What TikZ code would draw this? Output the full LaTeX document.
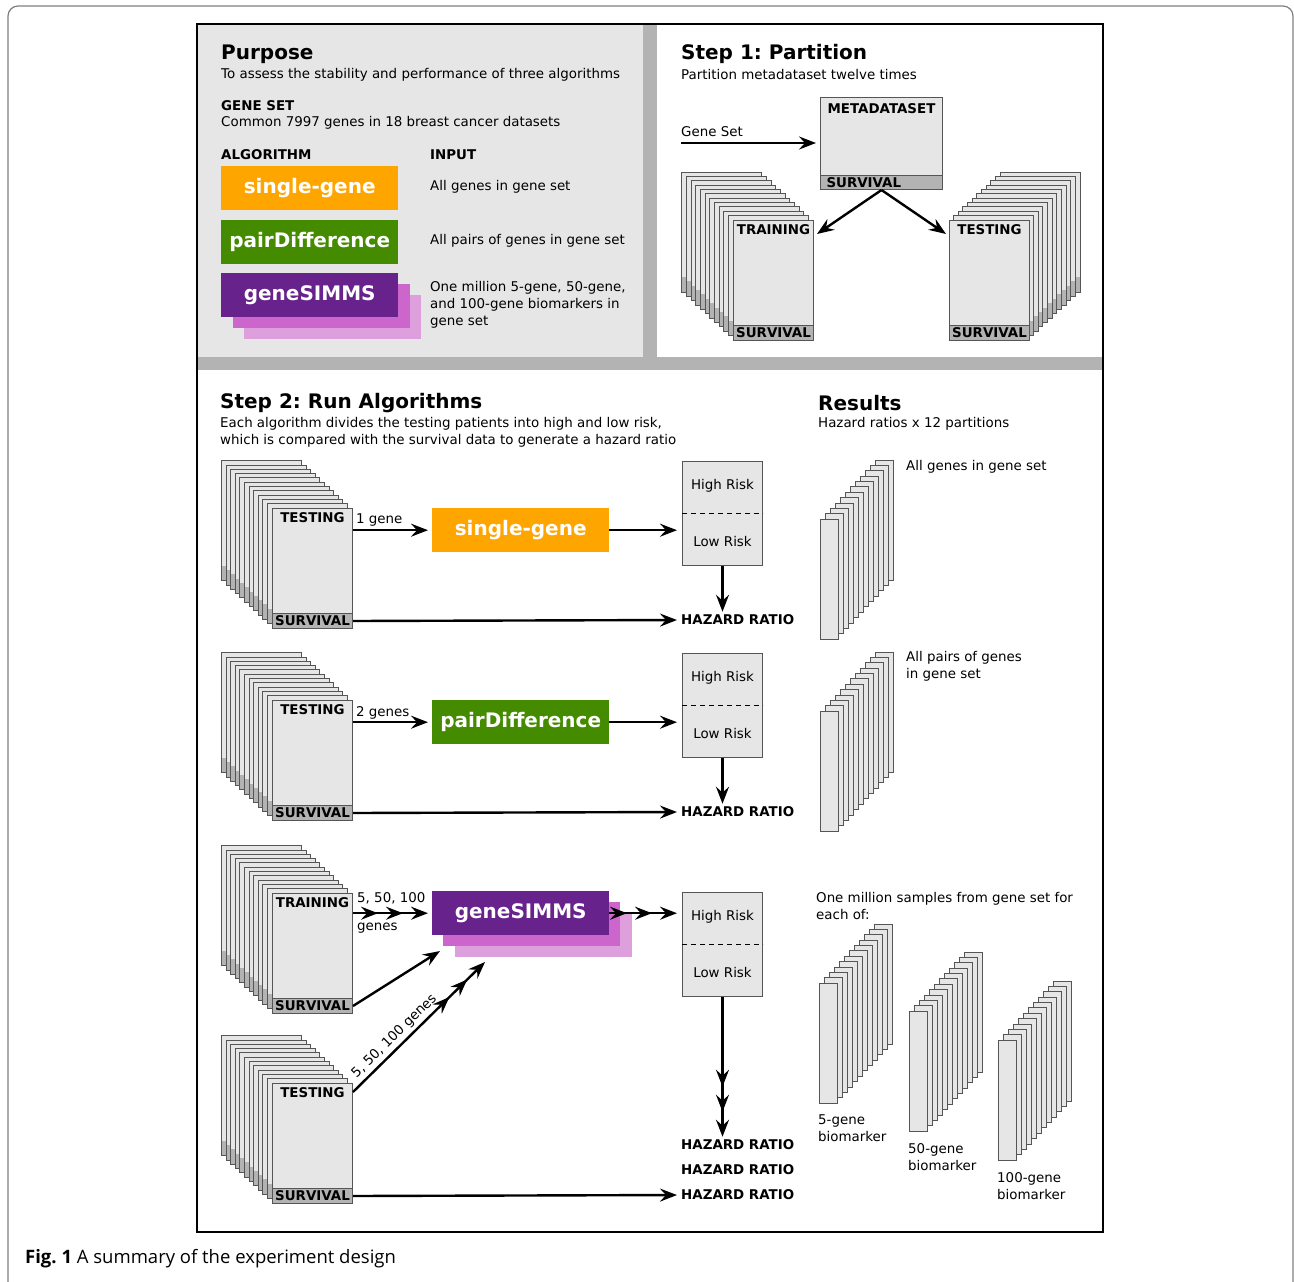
\documentclass[tikz,border=0pt]{standalone}
\usepackage{fontspec}
\setmainfont{DejaVu Sans}
\newfontfamily\capfont{Open Sans}
\usetikzlibrary{arrows.meta,calc,positioning}
\definecolor{sgorange}{RGB}{255,165,0}
\definecolor{pdgreen}{RGB}{69,139,0}
\definecolor{gspurple}{RGB}{104,34,139}
\definecolor{gsmagenta}{RGB}{204,102,204}
\definecolor{gsplum}{RGB}{221,160,221}
\definecolor{panelgray}{RGB}{230,230,230}
\definecolor{bargray}{RGB}{179,179,179}
\definecolor{edgegray}{RGB}{85,85,85}
\frenchspacing

\newcommand{\txtfont}{\fontsize{13.4}{17}\selectfont}
\newcommand{\hdfont}{\fontsize{20}{24}\selectfont\bfseries}
\newcommand{\lblfont}{\fontsize{13.4}{16}\selectfont\bfseries}
\newcommand{\algofont}{\fontsize{20}{24}\selectfont\bfseries}

% stack of data cards behind a front card at (#1,#2), step (#3,#4)
\newcommand{\cardstack}[4]{%
  \foreach \i in {11,...,1}{
    \fill[panelgray] ({#1-\i*(#3)},{#2-\i*(#4)}) rectangle ++(80,105);
    \fill[bargray] ({#1-\i*(#3)},{#2-\i*(#4)+105}) rectangle ++(80,15);
    \draw[edgegray, line width=1pt] ({#1-\i*(#3)},{#2-\i*(#4)}) rectangle ++(80,120);
  }
}
% stack of hazard ratio bars, front bar at (#1,#2)
\newcommand{\barstack}[2]{%
  \foreach \i in {11,...,0}{
    \filldraw[fill=panelgray, draw=edgegray, line width=0.9pt] ({#1+\i*5},{#2-\i*5.35}) rectangle ++(18,120);
  }
}

\tikzset{
  txt/.style={anchor=west, inner sep=0pt, font=\txtfont},
  hd/.style={anchor=west, inner sep=0pt, font=\hdfont},
  lbl/.style={anchor=west, inner sep=0pt, font=\lblfont},
  algbox/.style={anchor=north west, minimum width=177pt, minimum height=44pt, inner sep=0pt, text=white, font=\algofont},
  card/.style={anchor=north west, draw=edgegray, fill=panelgray, line width=1pt, minimum width=80pt, minimum height=120pt, inner sep=0pt},
  band/.style={anchor=south, draw=edgegray, fill=bargray, line width=1pt, minimum width=80pt, minimum height=15pt, inner sep=0pt, font=\lblfont},
  riskbox/.style={anchor=north west, draw=edgegray, fill=panelgray, line width=1pt, minimum width=80pt, minimum height=104pt, inner sep=0pt},
  arr/.style={-{Stealth[length=17pt,width=13pt,inset=6pt]}, line width=2.4pt},
  arrthree/.style={-{Stealth[length=17pt,width=13pt,inset=6pt,sep=8pt]Stealth[length=17pt,width=13pt,inset=6pt,sep=8pt]Stealth[length=17pt,width=13pt,inset=6pt]}, line width=2.4pt},
}

\begin{document}
\begin{tikzpicture}[x=1pt,y=-1pt]
\useasboundingbox (0,0) rectangle (1294,1282);
% Page frame and panels
\draw[gray, line width=1.2pt, rounded corners=10pt] (8,1300) -- (8,6) -- (1293,6) -- (1293,1300);
\fill[panelgray] (197,24) rectangle (643,357);
\fill[bargray] (643,24) rectangle (657,357);
\fill[bargray] (197,357) rectangle (1103,370);
\draw[line width=2pt] (197,24) rectangle (1103,1232);

% Purpose
\node[hd] (purp) at (221,54) {Purpose};
\node[txt] (purpt) at (221,75) {To assess the stability and performance of three algorithms};
\node[lbl] (gset) at (221,106) {GENE SET};
\node[txt] (gsett) at (221,123) {Common 7997 genes in 18 breast cancer datasets};
\node[lbl] (algh) at (221,155) {ALGORITHM};
\node[lbl] (inph) at (430,155) {INPUT};
\node[algbox, fill=sgorange] (sga) at (221,166) {single-gene};
\node[algbox, fill=pdgreen] (pda) at (221,220) {pairDifference};
\node[algbox, fill=gsplum] (gsa3) at (244,295) {};
\node[algbox, fill=gsmagenta] (gsa2) at (233,284) {};
\node[algbox, fill=gspurple] (gsa) at (221,273) {geneSIMMS};
\node[txt] (sgi) at (430,187) {All genes in gene set};
\node[txt] (pdi) at (430,241) {All pairs of genes in gene set};
\node[txt, align=left] (gsi) at (430,305) {One million 5-gene, 50-gene,\\and 100-gene biomarkers in\\gene set};

% Step 1
\node[hd] (s1) at (681,54) {Step 1: Partition};
\node[txt] (s1t) at (681,75) {Partition metadataset twelve times};
\node[card, minimum width=122pt, minimum height=92pt] (meta) at (820,97) {};
\node[band, minimum width=122pt, minimum height=14pt, text width=110pt, align=left] (metasv) at (meta.south) {SURVIVAL};
\node[lbl, anchor=north] (metal) at ([yshift=-6pt]meta.north) {METADATASET};
\node[txt] (gs) at (681,132) {Gene Set};
\coordinate (gsin) at (681,143);
\draw[arr, shorten >=4pt] (gsin) -- (gsin -| meta.west);

\cardstack{733}{220}{4.64}{4.36}
\node[card] (trn) at (733,220) {};
\node[band] (trnsv) at (trn.south) {SURVIVAL};
\node[lbl, anchor=north] (trnl) at ([yshift=-4pt]trn.north) {TRAINING};
\cardstack{949}{220}{-4.64}{4.36}
\node[card] (tst) at (949,220) {};
\node[band] (tstsv) at (tst.south) {SURVIVAL};
\node[lbl, anchor=north] (tstl) at ([yshift=-4pt]tst.north) {TESTING};
\draw[arr] (meta.south) -- ([xshift=3pt,yshift=-14pt]trn.north east);
\draw[arr] (meta.south) -- ([xshift=-3pt,yshift=-14pt]tst.north west);

% Step 2
\node[hd] (s2) at (220,403) {Step 2: Run Algorithms};
\node[txt, align=left] (s2t) at (220,432) {Each algorithm divides the testing patients into high and low risk,\\which is compared with the survival data to generate a hazard ratio};
\node[hd] (res) at (818,403) {Results};
\node[txt] (rest) at (818,424) {Hazard ratios x 12 partitions};

% Row 1: single-gene
\cardstack{272}{508}{4.6}{4.3}
\node[card] (te1) at (272,508) {};
\node[band] (sv1) at (te1.south) {SURVIVAL};
\node[lbl, anchor=north] (te1l) at ([yshift=-4pt]te1.north) {TESTING};
\node[algbox, fill=sgorange] (sg) at (432,508) {single-gene};
\node[txt] (g1) at (356,520) {1 gene};
\node[riskbox] (rk1) at (682,461) {};
\draw[dash pattern=on 5pt off 4pt, line width=1pt] ([yshift=-52pt]rk1.north west) -- ([yshift=-52pt]rk1.north east);
\node[font=\txtfont] (hi1) at ([yshift=-25pt]rk1.north) {High Risk};
\node[font=\txtfont] (lo1) at ([yshift=25pt]rk1.south) {Low Risk};
\node[lbl] (hz1) at (681,620) {HAZARD RATIO};
\draw[arr, shorten >=4pt] (sg.west -| te1.east) -- (sg.west);
\draw[arr, shorten >=5pt] (sg.east) -- (sg.east -| rk1.west);
\draw[arr, shorten >=3pt] (rk1.south) -- (rk1.south |- hz1.north);
\draw[arr, shorten >=4pt] (sv1.east) -- (hz1.west);

% Row 2: pairDifference
\cardstack{272}{700}{4.6}{4.3}
\node[card] (te2) at (272,700) {};
\node[band] (sv2) at (te2.south) {SURVIVAL};
\node[lbl, anchor=north] (te2l) at ([yshift=-4pt]te2.north) {TESTING};
\node[algbox, fill=pdgreen] (pd) at (432,700) {pairDifference};
\node[txt] (g2) at (356,713) {2 genes};
\node[riskbox] (rk2) at (682,653) {};
\draw[dash pattern=on 5pt off 4pt, line width=1pt] ([yshift=-52pt]rk2.north west) -- ([yshift=-52pt]rk2.north east);
\node[font=\txtfont] (hi2) at ([yshift=-25pt]rk2.north) {High Risk};
\node[font=\txtfont] (lo2) at ([yshift=25pt]rk2.south) {Low Risk};
\node[lbl] (hz2) at (681,812) {HAZARD RATIO};
\draw[arr, shorten >=4pt] (pd.west -| te2.east) -- (pd.west);
\draw[arr, shorten >=5pt] (pd.east) -- (pd.east -| rk2.west);
\draw[arr, shorten >=3pt] (rk2.south) -- (rk2.south |- hz2.north);
\draw[arr, shorten >=4pt] (sv2.east) -- (hz2.west);

% Row 3: geneSIMMS
\cardstack{272}{893}{4.6}{4.3}
\node[card] (tr3) at (272,893) {};
\node[band] (sv3) at (tr3.south) {SURVIVAL};
\node[lbl, anchor=north] (tr3l) at ([yshift=-4pt]tr3.north) {TRAINING};
\cardstack{272}{1083}{4.6}{4.3}
\node[card] (te4) at (272,1083) {};
\node[band] (sv4) at (te4.south) {SURVIVAL};
\node[lbl, anchor=north] (te4l) at ([yshift=-4pt]te4.north) {TESTING};
\node[algbox, fill=gsplum] (gs3) at (455,913) {};
\node[algbox, fill=gsmagenta] (gs2) at (443,902) {};
\node[algbox, fill=gspurple] (gs) at (432,891) {geneSIMMS};
\node[txt] (g3a) at (357,898) {5, 50, 100};
\node[txt] (g3b) at (357,928) {genes};
\coordinate (gsin1) at (440,951);
\coordinate (gsin2) at (485,962);
\node[riskbox] (rk3) at (682,892) {};
\draw[dash pattern=on 5pt off 4pt, line width=1pt] ([yshift=-52pt]rk3.north west) -- ([yshift=-52pt]rk3.north east);
\node[font=\txtfont] (hi3) at ([yshift=-25pt]rk3.north) {High Risk};
\node[font=\txtfont] (lo3) at ([yshift=25pt]rk3.south) {Low Risk};
\node[lbl] (hz3a) at (681,1145) {HAZARD RATIO};
\node[lbl] (hz3b) at (681,1170) {HAZARD RATIO};
\node[lbl] (hz3c) at (681,1195) {HAZARD RATIO};
\draw[arrthree, shorten >=4pt] (gs.west -| tr3.east) -- (gs.west);
\draw[arrthree, shorten >=5pt] (gs.east) -- (gs.east -| rk3.west);
\draw[arr] (sv3.east) -- (gsin1);
\draw[arrthree] ([yshift=-9pt]te4.north east) -- node[pos=0.37, sloped, above, font=\txtfont, inner sep=3pt] {5, 50, 100 genes} (gsin2);
\draw[arrthree, shorten >=3pt] (rk3.south) -- (rk3.south |- hz3a.north);
\draw[arr, shorten >=4pt] (sv4.east) -- (hz3c.west);

% Results
\barstack{820}{519}
\node[txt] (r1) at (906,467) {All genes in gene set};
\barstack{820}{711}
\node[txt, align=left] (r2) at (906,666.5) {All pairs of genes\\in gene set};
\node[txt, align=left] (r3) at (816,905.5) {One million samples from gene set for\\each of:};
\barstack{819}{983}
\barstack{909}{1011}
\barstack{998}{1040}
\node[txt, align=left] (b5) at (818,1128.5) {5-gene\\biomarker};
\node[txt, align=left] (b50) at (908,1157.5) {50-gene\\biomarker};
\node[txt, align=left] (b100) at (997,1186.5) {100-gene\\biomarker};

% Caption
\node[anchor=west, inner sep=0pt, font=\capfont\fontsize{18.5}{23}\selectfont] (cap) at (25,1259) {\textbf{Fig. 1} A summary of the experiment design};
\end{tikzpicture}
\end{document}
